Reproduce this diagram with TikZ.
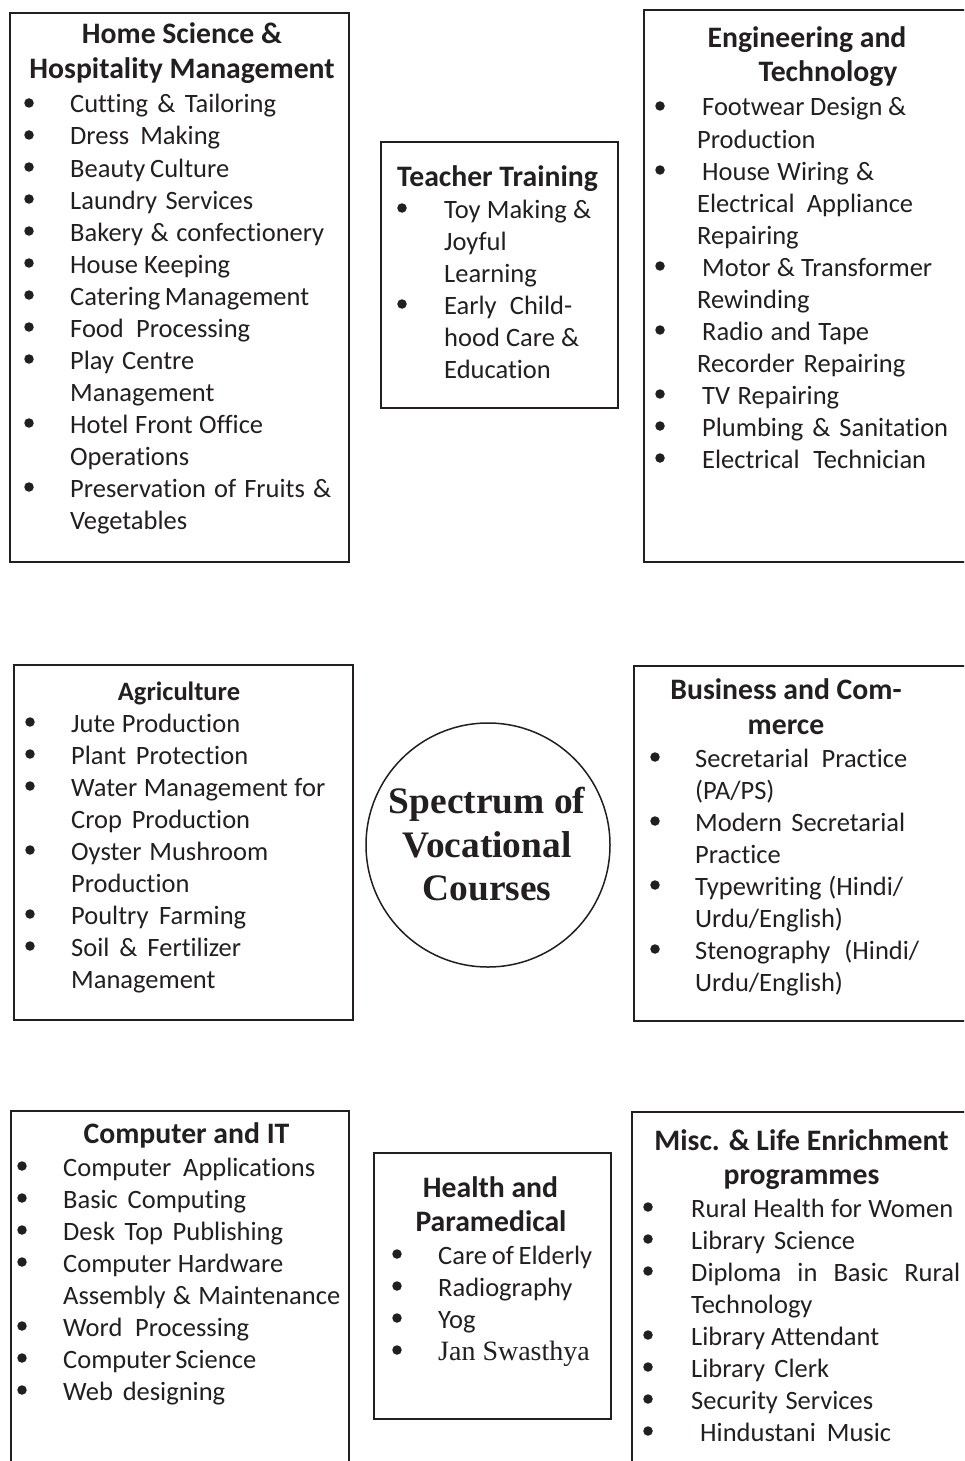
\documentclass[tikz,border=0pt]{standalone}
\usepackage{fontspec}
\setmainfont[Ligatures=NoCommon]{Carlito}
\newfontfamily\hubfont{Liberation Serif}
\newfontfamily\janfont{Liberation Serif}
\definecolor{ink}{HTML}{231F20}
\newcounter{nn}
\tikzset{
  box/.style={draw=ink, line width=2pt, rectangle, anchor=north west, inner sep=0pt},
  itemtxt/.style={anchor=base west, inner sep=0pt, text=ink, font=\fontsize{26.5}{32}\selectfont},
  headtxt/.style={anchor=base, inner sep=0pt, text=ink, font=\fontsize{29.7}{35}\selectfont\bfseries},
  bdot/.style={circle, fill=ink, draw=none, inner sep=0pt, minimum size=9.5pt},
  hubtxt/.style={anchor=base, inner sep=0pt, text=ink, font=\hubfont\fontsize{37.4}{44}\selectfont\bfseries},
}
\newcommand\Ltxt[3]{\stepcounter{nn}\node[itemtxt] (t\arabic{nn}) at (#1,#2) {#3};}
\newcommand\Ltxtw[4]{\stepcounter{nn}\node[itemtxt] (t\arabic{nn}) at (#1,#2) {\makebox[#3pt][s]{#4}};}
\newcommand\Lbul[2]{\stepcounter{nn}\node[bdot] (d\arabic{nn}) at (#1,#2-10) {};}
\newcommand\Lit[4]{\Lbul{#1}{#3}\Ltxt{#2}{#3}{#4}}
\newcommand\Litw[5]{\Lbul{#1}{#3}\Ltxtw{#2}{#3}{#4}{#5}}
\newcommand\Lhd[3]{\stepcounter{nn}\node[headtxt] (h\arabic{nn}) at (#1,#2) {#3};}
\begin{document}
\begin{tikzpicture}[x=1pt,y=-1pt]
\useasboundingbox (0,0) rectangle (964,1461);
\fill[white] (0,0) rectangle (964,1461);
\clip (0,0) rectangle (964,1461);

% ---------- boxes ----------
\node[box, minimum width=339pt, minimum height=549pt] (home) at (9,12) {};
\node[box, minimum width=237pt, minimum height=266pt] (teach) at (380,141) {};
\node[box, minimum width=332pt, minimum height=552pt] (eng) at (643,9) {};
\node[box, minimum width=339pt, minimum height=355pt] (agri) at (13,664) {};
\node[box, minimum width=342pt, minimum height=355pt] (bus) at (633,665) {};
\node[box, minimum width=338pt, minimum height=380pt] (comp) at (10,1110) {};
\node[box, minimum width=237pt, minimum height=266pt] (health) at (373,1152) {};
\node[box, minimum width=344pt, minimum height=380pt] (misc) at (631,1111) {};
\node[circle, draw=ink, line width=1.5pt, minimum size=244pt, inner sep=0pt] (hub) at (488,845) {};

% ---------- hub ----------
\node[hubtxt] (hub1) at (487,813) {Spectrum of};
\node[hubtxt] (hub2) at (487,857) {Vocational};
\node[hubtxt] (hub3) at (487,900) {Courses};

% ---------- Home Science ----------
\Lhd{182}{44}{Home Science \&}
\Lhd{182}{79}{Hospitality Management}
\Litw{29}{70}{113}{206}{Cutting \& Tailoring}
\Litw{29}{70}{145}{150}{Dress Making}
\Litw{29}{70}{177}{159}{Beauty Culture}
\Litw{29}{70}{209}{183}{Laundry Services}
\Litw{29}{70}{241}{254}{Bakery \& confectionery}
\Litw{29}{70}{273}{160}{House Keeping}
\Litw{29}{70}{305}{239}{Catering Management}
\Litw{29}{70}{337}{180}{Food Processing}
\Litw{29}{70}{369}{124}{Play Centre}
\Ltxt{70}{401}{Management}
\Litw{29}{70}{433}{193}{Hotel Front Office}
\Ltxt{70}{465}{Operations}
\Litw{29}{70}{497}{261}{Preservation of Fruits \&}
\Ltxt{70}{529}{Vegetables}

% ---------- Teacher Training ----------
\Lhd{497.5}{186}{Teacher Training}
\Litw{402}{444}{218}{147}{Toy Making \&}
\Ltxt{444}{250}{Joyful}
\Ltxt{444}{282}{Learning}
\Litw{402}{444}{314}{128}{Early Child-}
\Ltxtw{444}{346}{135}{hood Care \&}
\Ltxt{444}{378}{Education}

% ---------- Engineering ----------
\Lhd{807}{48}{Engineering and}
\Lhd{828}{82}{Technology}
\Litw{660}{702}{116}{204}{Footwear Design \&}
\Ltxt{697}{148}{Production}
\Litw{660}{702}{180}{172}{House Wiring \&}
\Ltxtw{697}{212}{216}{Electrical Appliance}
\Ltxt{697}{244}{Repairing}
\Litw{660}{702}{276}{230}{Motor \& Transformer}
\Ltxt{697}{308}{Rewinding}
\Litw{660}{702}{340}{167}{Radio and Tape}
\Ltxtw{697}{372}{208}{Recorder Repairing}
\Litw{660}{702}{404}{137}{TV Repairing}
\Litw{660}{702}{436}{246}{Plumbing \& Sanitation}
\Litw{660}{702}{468}{224}{Electrical Technician}

% ---------- Agriculture ----------
\stepcounter{nn}\node[headtxt, font=\fontsize{26.5}{32}\selectfont\bfseries] (agrihd) at (179,700) {Agriculture};
\Litw{30}{71}{732}{169}{Jute Production}
\Litw{30}{71}{764}{177}{Plant Protection}
\Litw{30}{71}{796}{254}{Water Management for}
\Ltxtw{71}{828}{179}{Crop Production}
\Litw{30}{71}{860}{197}{Oyster Mushroom}
\Ltxt{71}{892}{Production}
\Litw{30}{71}{924}{175}{Poultry Farming}
\Litw{30}{71}{956}{170}{Soil \& Fertilizer}
\Ltxt{71}{988}{Management}

% ---------- Business ----------
\Lhd{786}{699}{Business and Com-}
\Lhd{786}{734}{merce}
\Litw{655}{695}{767}{212}{Secretarial Practice}
\Ltxt{695}{799}{(PA/PS)}
\Litw{655}{695}{831}{210}{Modern Secretarial}
\Ltxt{695}{863}{Practice}
\Litw{655}{695}{895}{208}{Typewriting (Hindi/}
\Ltxt{695}{927}{Urdu/English)}
\Litw{655}{695}{959}{224}{Stenography (Hindi/}
\Ltxt{695}{991}{Urdu/English)}

% ---------- Computer and IT ----------
\Lhd{186.5}{1143}{Computer and IT}
\Litw{22}{63}{1176}{252}{Computer Applications}
\Litw{22}{63}{1208}{183}{Basic Computing}
\Litw{22}{63}{1240}{220}{Desk Top Publishing}
\Litw{22}{63}{1272}{220}{Computer Hardware}
\Ltxtw{63}{1304}{277}{Assembly \& Maintenance}
\Litw{22}{63}{1336}{186}{Word Processing}
\Litw{22}{63}{1368}{193}{Computer Science}
\Litw{22}{63}{1400}{162}{Web designing}

% ---------- Health ----------
\Lhd{490.5}{1197}{Health and}
\Lhd{491}{1231}{Paramedical}
\Litw{397}{438}{1264}{154}{Care of Elderly}
\Lit{397}{438}{1296}{Radiography}
\Lit{397}{438}{1328}{Yog}
\Lit{397}{438}{1360}{{\janfont\fontsize{28}{32}\selectfont Jan Swasthya}}

% ---------- Misc ----------
\Lhd{801.5}{1150}{Misc. \& Life Enrichment}
\Lhd{801.5}{1184}{programmes}
\Litw{648}{691}{1217}{262}{Rural Health for Women}
\Litw{648}{691}{1249}{164}{Library Science}
\Litw{648}{691}{1281}{269}{Diploma in Basic Rural}
\Ltxt{691}{1313}{Technology}
\Litw{648}{691}{1345}{188}{Library Attendant}
\Litw{648}{691}{1377}{138}{Library Clerk}
\Litw{648}{691}{1409}{182}{Security Services}
\Litw{648}{700}{1441}{191}{Hindustani Music}
\end{tikzpicture}
\end{document}
